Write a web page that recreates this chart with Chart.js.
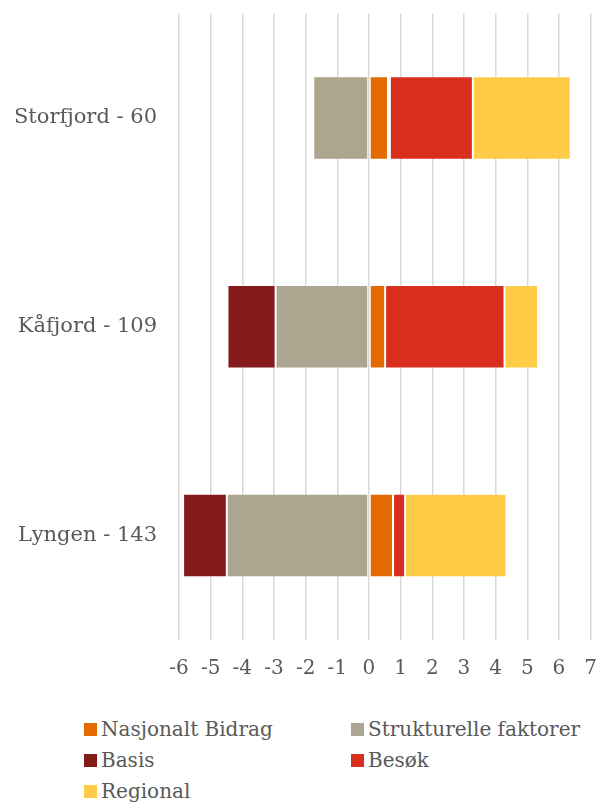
<!DOCTYPE html>
<html>
<head>
<meta charset="utf-8">
<script src="https://cdn.jsdelivr.net/npm/chart.js@4"></script>
<style>
  body { margin: 0; background: #fff; width: 598px; height: 805px; overflow: hidden; position: relative; }
  #wrap { position: absolute; left: 0; top: -21px; width: 614px; height: 711px; }
  #legend { position: absolute; left: 84px; top: 717px; width: 514px; display: grid;
    grid-template-columns: 267px 247px; row-gap: 7px;
    font-family: Georgia, "DejaVu Serif", serif; font-size: 20px; color: #595959; }
  .item { display: flex; align-items: center; white-space: nowrap; line-height: 24px; }
  .box { width: 13px; height: 13px; margin-right: 4px; display: inline-block; }
</style>
</head>
<body>
<div id="wrap"><canvas id="chart"></canvas></div>
<div id="legend"></div>
<script>
const categories = ['Storfjord - 60', 'Kåfjord - 109', 'Lyngen - 143'];

const nasjonaltBidrag = [0.6, 0.51, 0.76];
const strukturelleFaktorer = [-1.76, -2.95, -4.49];
const basis = [0.06, -1.52, -1.38];
const besok = [2.62, 3.77, 0.38];
const regional = [3.09, 1.06, 3.2];

const xTicks = [-6, -5, -4, -3, -2, -1, 0, 1, 2, 3, 4, 5, 6, 7];

const font = 'Georgia, "DejaVu Serif", serif';
const textColor = '#595959';

const series = [
    { label: 'Nasjonalt Bidrag', data: nasjonaltBidrag, color: '#E36A00' },
    { label: 'Strukturelle faktorer', data: strukturelleFaktorer, color: '#ACA590' },
    { label: 'Basis', data: basis, color: '#841A1A' },
    { label: 'Besøk', data: besok, color: '#D72E1E' },
    { label: 'Regional', data: regional, color: '#FFCC48' },
];

const ctx = document.getElementById('chart').getContext('2d');
new Chart(ctx, {
    type: 'bar',
    data: {
        labels: categories,
        datasets: series.map(s => ({
            label: s.label,
            data: s.data,
            backgroundColor: s.color,
            borderColor: 'rgba(255,255,255,0.15)',
            borderWidth: 1,
            borderSkipped: false,
            barPercentage: 0.4,
            categoryPercentage: 1,
        })),
    },
    options: {
        indexAxis: 'y',
        responsive: true,
        maintainAspectRatio: false,
        animation: false,
        plugins: {
            legend: { display: false },
            tooltip: { enabled: false },
        },
        scales: {
            x: {
                stacked: true,
                min: -6,
                max: 7,
                afterBuildTicks: scale => { scale.ticks = xTicks.map(v => ({ value: v })); },
                afterFit: scale => { scale.height = 50; },
                grid: { color: '#d9d9d9', lineWidth: 1.5, drawTicks: false },
                border: { display: false },
                ticks: {
                    padding: 17,
                    color: textColor,
                    font: { family: font, size: 20 },
                    maxRotation: 0,
                    autoSkip: false,
                },
            },
            y: {
                stacked: true,
                afterFit: scale => { scale.width = 179; },
                grid: { display: false, drawTicks: false },
                border: { display: false },
                ticks: {
                    padding: 22,
                    color: textColor,
                    font: { family: font, size: 21 },
                },
            },
        },
    },
});

const legend = document.getElementById('legend');
series.forEach(s => {
    const item = document.createElement('div');
    item.className = 'item';
    item.innerHTML = `<span class="box" style="background:${s.color}"></span>${s.label}`;
    legend.appendChild(item);
});
</script>
</body>
</html>
